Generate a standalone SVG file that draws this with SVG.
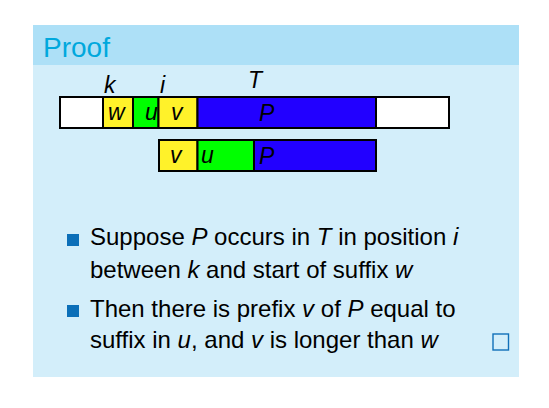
<svg xmlns="http://www.w3.org/2000/svg" width="549" height="408" viewBox="0 0 549 408">
<style>
.cell{stroke:#000;stroke-width:2}
.y{fill:#FFF22A}.g{fill:#00FF00}.b{fill:#2200FF}.w{fill:#FFFFFF}
.m{font-family:"Liberation Sans",Arial,sans-serif;font-style:italic;font-size:23px;fill:#000}
.t{font-family:"Liberation Sans",Arial,sans-serif;font-size:24px;fill:#000}
.bul{fill:#0B6FB8}
</style>
<rect x="0" y="0" width="549" height="408" fill="#FFFFFF"/>
<g id="block">
<rect x="33" y="25" width="486" height="352" fill="#D3EEFA"/>
<rect x="33" y="25" width="486" height="40" fill="#ADE0F7"/>
<text x="43" y="57" font-family="Liberation Sans,Arial,sans-serif" font-size="28" fill="#00A8DD">Proof</text>
</g>
<g id="textbar">
<rect class="cell w" x="60" y="97" width="43" height="31"/>
<rect class="cell y" x="103" y="97" width="30" height="31"/>
<rect class="cell g" x="133" y="97" width="25.5" height="31"/>
<rect class="cell y" x="158.5" y="97" width="39" height="31"/>
<rect class="cell b" x="197.5" y="97" width="178.5" height="31"/>
<rect class="cell w" x="376" y="97" width="73" height="31"/>
<text class="m" x="108" y="120">w</text>
<text class="m" x="145" y="120">u</text>
<text class="m" x="171" y="120">v</text>
<text class="m" x="259" y="121">P</text>
</g>
<g id="labels">
<text class="m" x="104" y="93" font-size="24">k</text>
<text class="m" x="160" y="93" font-size="24">i</text>
<text class="m" x="248" y="88" font-size="24">T</text>
</g>
<g id="patternbar">
<rect class="cell y" x="159" y="140" width="38.5" height="31"/>
<rect class="cell g" x="197.5" y="140" width="56.5" height="31"/>
<rect class="cell b" x="254" y="140" width="122" height="31"/>
<text class="m" x="170" y="163">v</text>
<text class="m" x="201" y="163">u</text>
<text class="m" x="259" y="164">P</text>
</g>
<g id="bullets">
<rect class="bul" x="67" y="234" width="12" height="12"/>
<text class="t" x="90" y="245">Suppose <tspan font-style="italic">P</tspan> occurs in <tspan font-style="italic">T</tspan> in position <tspan font-style="italic">i</tspan></text>
<text class="t" x="90" y="278">between <tspan font-style="italic">k</tspan> and start of suffix <tspan font-style="italic">w</tspan></text>
<rect class="bul" x="67" y="305" width="12" height="12"/>
<text class="t" x="90" y="317">Then there is prefix <tspan font-style="italic">v</tspan> of <tspan font-style="italic">P</tspan> equal to</text>
<text class="t" x="90" y="348">suffix in <tspan font-style="italic">u</tspan>, and <tspan font-style="italic">v</tspan> is longer than <tspan font-style="italic">w</tspan></text>
<rect x="493" y="334" width="15.5" height="16" fill="none" stroke="#1170B8" stroke-width="1.4"/>
</g>
</svg>
